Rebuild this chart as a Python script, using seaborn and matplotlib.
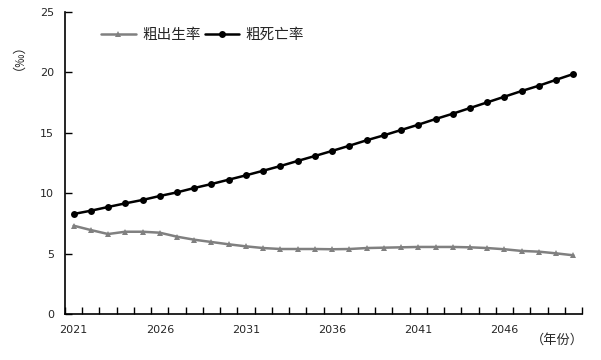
import pandas as pd
import matplotlib
matplotlib.use('Agg')
import matplotlib.pyplot as plt
import seaborn as sns

# data
years = list(range(2021, 2051))
birth = [7.31, 6.95, 6.62, 6.81, 6.81, 6.73, 6.40, 6.15, 5.96, 5.77,
         5.60, 5.46, 5.38, 5.38, 5.38, 5.36, 5.38, 5.46, 5.49, 5.52,
         5.55, 5.55, 5.55, 5.52, 5.46, 5.36, 5.22, 5.16, 5.02, 4.86]
death = [8.28, 8.55, 8.86, 9.16, 9.44, 9.77, 10.07, 10.43, 10.76, 11.12,
         11.48, 11.86, 12.25, 12.67, 13.08, 13.50, 13.93, 14.38, 14.79, 15.23,
         15.67, 16.14, 16.58, 17.05, 17.52, 17.99, 18.46, 18.90, 19.39, 19.87]
series_names = ['粗出生率', '粗死亡率']
tick_years = [2021, 2026, 2031, 2036, 2041, 2046]

df = pd.DataFrame({
    'year': years * 2,
    'rate': birth + death,
    'series': [series_names[0]] * len(years) + [series_names[1]] * len(years),
})

sns.set_style('white')
plt.rcParams['font.family'] = ['DejaVu Sans', 'Noto Sans CJK SC']
cjk = ['Noto Sans CJK SC', 'DejaVu Sans']

fig = plt.figure(figsize=(6.01, 3.6), dpi=100)
ax = fig.add_axes([65 / 601, 1 - 314 / 360, (582 - 65) / 601, (314 - 12) / 360])

sns.lineplot(data=df, x='year', y='rate', hue='series', style='series',
             palette=['#808080', '#000000'], markers=['^', 'o'], dashes=False,
             markersize=5, linewidth=1.8, markeredgewidth=0, ax=ax)

ax.set_xlim(2020.5, 2050.5)
ax.set_ylim(0, 25)
ax.set_yticks([0, 5, 10, 15, 20, 25])
ax.set_xticks(tick_years)
ax.set_xticks([y + 0.5 for y in range(2020, 2051)], minor=True)
ax.tick_params(axis='x', which='major', length=0, labelsize=8, pad=8)
ax.tick_params(axis='x', which='minor', direction='in', length=5, width=1,
               color='black', bottom=True, top=False)
ax.tick_params(axis='y', direction='in', length=5, width=1, color='black',
               labelsize=8, left=True, pad=8)
ax.set_xlabel('')
ax.set_ylabel('')
for s in ['top', 'right']:
    ax.spines[s].set_visible(False)
for s in ['left', 'bottom']:
    ax.spines[s].set_color('black')
    ax.spines[s].set_linewidth(1.2)

fig.text(12 / 601, 1 - 50 / 360, '（‰）', rotation=90, ha='center', va='center',
         fontsize=9.5, family=cjk)
fig.text(557 / 601, 1 - 340 / 360, '（年份）', ha='center', va='center',
         fontsize=9.5, family=cjk)

ax.legend(loc='center left', bbox_to_anchor=(94 / 601, 1 - 35 / 360),
          bbox_transform=fig.transFigure, ncol=2, frameon=False, borderpad=0,
          prop={'family': cjk, 'size': 10.5}, handlelength=2.35,
          columnspacing=0.3, handletextpad=0.45)

fig.savefig('out.png', dpi=100)
